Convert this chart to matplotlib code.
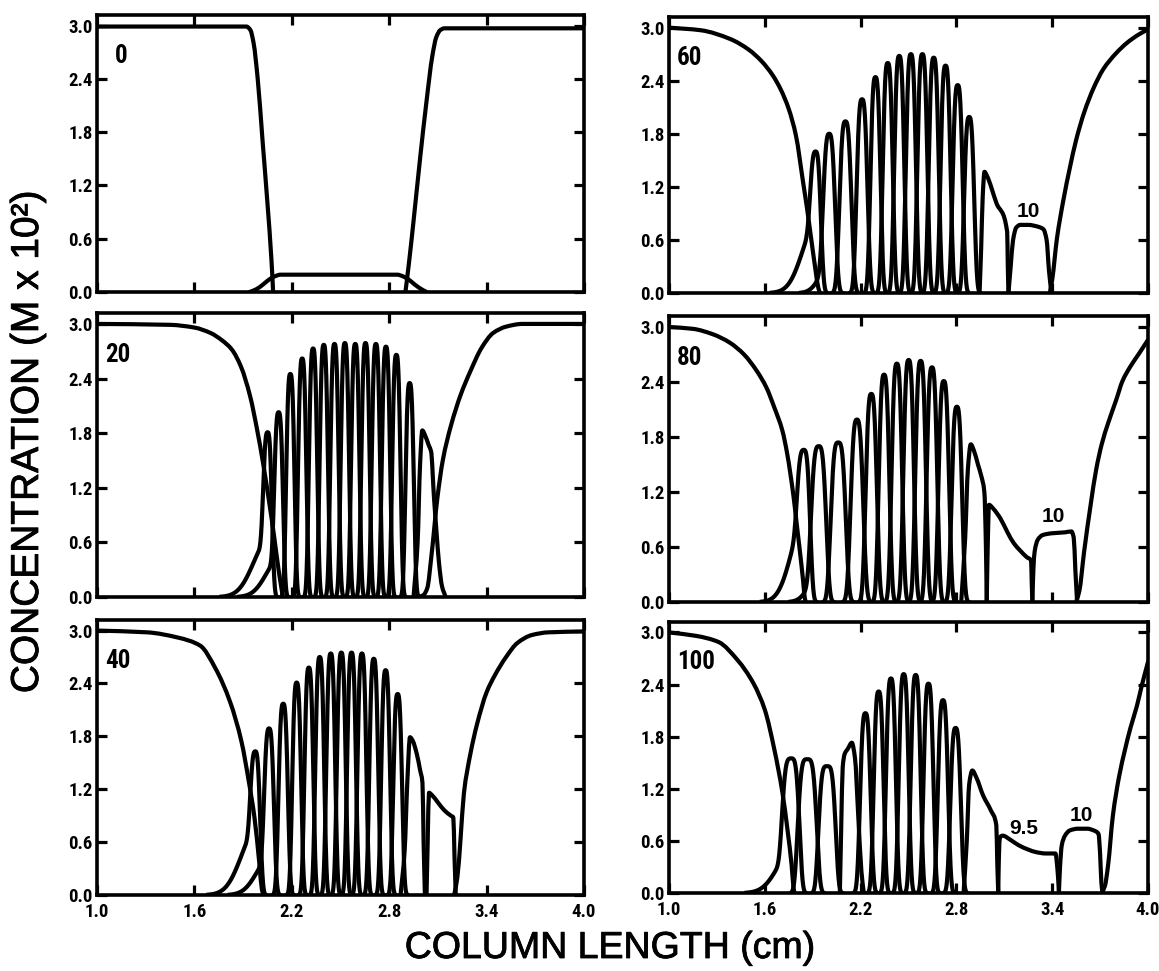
import numpy as np
import matplotlib
matplotlib.use("Agg")
import matplotlib.pyplot as plt
from matplotlib import font_manager
from matplotlib import patheffects
from matplotlib.path import Path
from matplotlib.patches import PathPatch

# ---------------------------------------------------------------- axes text
x_ticks = [1.0, 1.6, 2.2, 2.8, 3.4, 4.0]
y_ticks = [0.0, 0.6, 1.2, 1.8, 2.4, 3.0]
x_tick_labels = ["1.0", "1.6", "2.2", "2.8", "3.4", "4.0"]
y_tick_labels = ["0.0", "0.6", "1.2", "1.8", "2.4", "3.0"]
panel_times = ["0", "20", "40", "60", "80", "100"]
x_label = "COLUMN LENGTH (cm)"
y_label = "CONCENTRATION (M x 10\u00b2)"

# ---------------------------------------------------------------- t = 0
t0_front_left_x = [1.0, 1.92, 1.945, 1.965, 1.99, 2.02, 2.05, 2.075, 2.085]
t0_front_left_y = [2.99, 2.99, 2.95, 2.8, 2.4, 1.7, 1.0, 0.35, 0.0]
t0_low_x = [1.94, 1.98, 2.02, 2.06, 2.1, 2.13, 2.5, 2.85, 2.88, 2.92, 2.96, 3.0, 3.03]
t0_low_y = [0.0, 0.03, 0.08, 0.14, 0.18, 0.195, 0.195, 0.195, 0.18, 0.14, 0.08, 0.03, 0.0]
t0_front_right_x = [2.90, 2.92, 2.95, 2.99, 3.03, 3.065, 3.09, 3.115, 3.14, 3.5, 4.0]
t0_front_right_y = [0.0, 0.3, 0.8, 1.5, 2.15, 2.65, 2.87, 2.95, 2.97, 2.97, 2.97]

# ---------------------------------------------------------------- t = 20
t20_front_left_x = [1.0, 1.45, 1.6, 1.7, 1.77, 1.83, 1.887, 1.944, 1.985, 2.025, 2.06, 2.09, 2.12, 2.145]
t20_front_left_y = [3.0, 2.99, 2.96, 2.9, 2.82, 2.72, 2.53, 2.2, 1.85, 1.45, 1.05, 0.68, 0.28, 0.0]
t20_peak_x = [2.051, 2.119, 2.191, 2.264, 2.331, 2.397, 2.463, 2.527, 2.591, 2.654, 2.718, 2.78, 2.844, 2.926]
t20_peak_h = [1.81, 2.03, 2.45, 2.62, 2.73, 2.77, 2.78, 2.79, 2.78, 2.79, 2.78, 2.75, 2.66, 2.35]
t20_peak_w = [0.025, 0.025] + [0.024] * 12
t20_peak_p = [3.0] * 14
t20_tails = [(0, 0.6, 0.09), (1, 0.4, 0.08)]
t20_last_x = [2.95, 2.975, 2.99, 3.004, 3.02, 3.045, 3.058, 3.076, 3.092, 3.107, 3.125, 3.148]
t20_last_y = [0.0, 0.6, 1.45, 1.83, 1.78, 1.66, 1.6, 1.09, 0.7, 0.37, 0.12, 0.0]
t20_front_right_x = [2.98, 3.01, 3.035, 3.06, 3.097, 3.13, 3.18, 3.24, 3.30, 3.37, 3.44, 3.52, 3.62, 4.0]
t20_front_right_y = [0.0, 0.02, 0.1, 0.45, 1.09, 1.5, 1.88, 2.22, 2.48, 2.74, 2.9, 2.97, 3.0, 3.0]

# ---------------------------------------------------------------- t = 40
t40_front_left_x = [1.0, 1.31, 1.50, 1.635, 1.73, 1.82, 1.89, 1.935, 1.97, 2.0, 2.016, 2.025]
t40_front_left_y = [3.0, 2.98, 2.92, 2.83, 2.57, 2.19, 1.74, 1.29, 0.88, 0.36, 0.06, 0.0]
t40_peak_x = [1.975, 2.06, 2.147, 2.23, 2.305, 2.372, 2.44, 2.505, 2.568, 2.632, 2.705, 2.778, 2.852]
t40_peak_h = [1.63, 1.89, 2.17, 2.41, 2.58, 2.70, 2.74, 2.75, 2.75, 2.74, 2.68, 2.55, 2.28]
t40_peak_w = [0.028, 0.028, 0.027] + [0.0255] * 10
t40_peak_p = [3.0] * 13
t40_tails = [(0, 0.7, 0.09), (1, 0.4, 0.08)]
t40_b14_x = [2.87, 2.895, 2.912, 2.928, 2.945, 2.97, 2.99, 3.005, 3.012, 3.02]
t40_b14_y = [0.0, 0.5, 1.3, 1.79, 1.75, 1.6, 1.42, 1.27, 0.6, 0.0]
t40_b15_x = [3.03, 3.037, 3.045, 3.06, 3.10, 3.14, 3.18, 3.195, 3.202, 3.21]
t40_b15_y = [0.0, 0.6, 1.16, 1.14, 1.05, 0.96, 0.9, 0.88, 0.45, 0.0]
t40_front_right_x = [3.2, 3.22, 3.24, 3.26, 3.30, 3.34, 3.40, 3.45, 3.52, 3.59, 3.68, 3.78, 4.0]
t40_front_right_y = [0.0, 0.2, 0.65, 1.15, 1.6, 1.93, 2.3, 2.49, 2.7, 2.86, 2.95, 2.98, 2.99]

# ---------------------------------------------------------------- t = 60
t60_front_left_x = [1.0, 1.2, 1.385, 1.5, 1.58, 1.65, 1.70, 1.75, 1.795, 1.84, 1.865, 1.89, 1.916, 1.935, 1.945]
t60_front_left_y = [3.0, 2.97, 2.87, 2.75, 2.62, 2.46, 2.3, 2.08, 1.78, 1.25, 0.95, 0.62, 0.28, 0.06, 0.0]
t60_peak_x = [1.918, 2.003, 2.105, 2.209, 2.293, 2.37, 2.442, 2.515, 2.587, 2.658, 2.732, 2.808, 2.88]
t60_peak_h = [1.6, 1.8, 1.94, 2.19, 2.44, 2.6, 2.68, 2.70, 2.70, 2.66, 2.57, 2.35, 1.99]
t60_peak_w = [0.031, 0.035, 0.035, 0.032] + [0.0295] * 9
t60_peak_p = [3.0] * 13
t60_tails = [(0, 0.75, 0.085), (1, 0.3, 0.06)]
t60_b14_x = [2.945, 2.955, 2.965, 2.976, 2.99, 3.05, 3.118, 3.122, 3.126]
t60_b14_y = [0.0, 0.5, 1.1, 1.37, 1.33, 1.02, 0.69, 0.3, 0.0]
t60_b10_x = [3.126, 3.14, 3.155, 3.175, 3.2, 3.25, 3.31, 3.345, 3.365, 3.38, 3.395]
t60_b10_y = [0.0, 0.3, 0.6, 0.74, 0.77, 0.77, 0.75, 0.72, 0.6, 0.25, 0.0]
t60_front_right_x = [3.385, 3.40, 3.43, 3.47, 3.51, 3.55, 3.60, 3.66, 3.72, 3.80, 3.87, 3.94, 4.0]
t60_front_right_y = [0.0, 0.15, 0.62, 1.05, 1.41, 1.73, 2.04, 2.32, 2.53, 2.71, 2.83, 2.92, 2.98]

# ---------------------------------------------------------------- t = 80
t80_front_left_x = [1.0, 1.15, 1.276, 1.38, 1.47, 1.55, 1.61, 1.66, 1.71, 1.74, 1.78, 1.80, 1.82, 1.84, 1.85, 1.856]
t80_front_left_y = [3.0, 2.98, 2.92, 2.83, 2.70, 2.52, 2.34, 2.12, 1.87, 1.62, 1.15, 0.85, 0.55, 0.23, 0.05, 0.0]
t80_peak_x = [1.843, 1.937, 2.06, 2.177, 2.267, 2.347, 2.427, 2.501, 2.576, 2.647, 2.721, 2.803]
t80_peak_h = [1.66, 1.70, 1.74, 1.99, 2.27, 2.48, 2.60, 2.64, 2.63, 2.56, 2.41, 2.13]
t80_peak_w = [0.038, 0.044, 0.044, 0.037, 0.033] + [0.031] * 7
t80_peak_p = [3.4, 3.4, 3.4, 3.0, 3.0] + [3.0] * 7
t80_tails = [(0, 0.85, 0.08), (1, 0.3, 0.06)]
t80_b13_x = [2.83, 2.855, 2.872, 2.89, 2.91, 2.935, 2.955, 2.975, 2.985, 2.99]
t80_b13_y = [0.0, 0.7, 1.45, 1.72, 1.65, 1.5, 1.38, 1.2, 0.6, 0.0]
t80_b14_x = [2.99, 2.996, 3.004, 3.03, 3.076, 3.12, 3.16, 3.2, 3.24, 3.268, 3.272, 3.276]
t80_b14_y = [0.0, 0.6, 1.06, 1.02, 0.91, 0.76, 0.64, 0.56, 0.49, 0.45, 0.2, 0.0]
t80_b10_x = [3.276, 3.282, 3.29, 3.31, 3.34, 3.40, 3.48, 3.52, 3.535, 3.545, 3.556]
t80_b10_y = [0.0, 0.35, 0.55, 0.68, 0.73, 0.75, 0.76, 0.77, 0.7, 0.35, 0.0]
t80_front_right_x = [3.55, 3.57, 3.60, 3.64, 3.676, 3.71, 3.75, 3.80, 3.84, 3.89, 3.94, 4.0]
t80_front_right_y = [0.0, 0.12, 0.55, 1.05, 1.45, 1.72, 1.95, 2.2, 2.41, 2.57, 2.70, 2.86]

# ---------------------------------------------------------------- t = 100
t100_front_left_x = [1.0, 1.17, 1.31, 1.43, 1.53, 1.60, 1.66, 1.71, 1.744, 1.768, 1.78, 1.786]
t100_front_left_y = [3.0, 2.96, 2.89, 2.68, 2.41, 2.11, 1.65, 1.16, 0.70, 0.32, 0.06, 0.0]
t100_peak_x = [1.763, 1.866, 1.99, 2.23, 2.313, 2.39, 2.47, 2.545, 2.625, 2.716, 2.795]
t100_peak_h = [1.55, 1.54, 1.46, 2.07, 2.32, 2.47, 2.52, 2.51, 2.41, 2.22, 1.90]
t100_peak_w = [0.05, 0.055, 0.05, 0.031, 0.029, 0.029, 0.029, 0.029, 0.029, 0.03, 0.031]
t100_peak_p = [4.0, 4.0, 4.0] + [3.0] * 8
t100_tails = [(0, 0.45, 0.09)]
t100_b4_x = [2.07, 2.078, 2.088, 2.10, 2.12, 2.145, 2.165, 2.185, 2.205, 2.22]
t100_b4_y = [0.0, 0.7, 1.45, 1.6, 1.66, 1.73, 1.55, 0.9, 0.25, 0.0]
t100_b13_x = [2.845, 2.865, 2.88, 2.90, 2.925, 2.968, 3.016, 3.05, 3.056, 3.062]
t100_b13_y = [0.0, 0.6, 1.25, 1.41, 1.33, 1.12, 0.95, 0.78, 0.35, 0.0]
t100_b95_x = [3.062, 3.066, 3.072, 3.09, 3.14, 3.19, 3.25, 3.30, 3.36, 3.42, 3.436, 3.442]
t100_b95_y = [0.0, 0.4, 0.64, 0.66, 0.61, 0.55, 0.5, 0.47, 0.455, 0.455, 0.2, 0.0]
t100_b10_x = [3.442, 3.449, 3.46, 3.48, 3.51, 3.56, 3.62, 3.66, 3.69, 3.70, 3.708, 3.715]
t100_b10_y = [0.0, 0.3, 0.55, 0.66, 0.72, 0.74, 0.74, 0.72, 0.68, 0.45, 0.12, 0.0]
t100_front_right_x = [3.71, 3.73, 3.75, 3.78, 3.82, 3.856, 3.89, 3.93, 3.96, 4.0]
t100_front_right_y = [0.0, 0.08, 0.32, 0.89, 1.35, 1.65, 1.9, 2.15, 2.38, 2.66]

# band labels (text, x, y)
t60_notes = [("10", 3.25, 0.92)]
t80_notes = [("10", 3.41, 0.93)]
t100_notes = [("9.5", 3.22, 0.74), ("10", 3.58, 0.89)]

# ---------------------------------------------------------------- panels
panels = [
    dict(time=panel_times[0], box=(97, 15, 584, 292),
         curves=[(t0_front_left_x, t0_front_left_y), (t0_low_x, t0_low_y),
                 (t0_front_right_x, t0_front_right_y)],
         peaks=None, notes=[]),
    dict(time=panel_times[3], box=(669, 17, 1148, 293),
         curves=[(t60_front_left_x, t60_front_left_y), (t60_b14_x, t60_b14_y),
                 (t60_b10_x, t60_b10_y), (t60_front_right_x, t60_front_right_y)],
         peaks=(t60_peak_x, t60_peak_h, t60_peak_w, t60_peak_p, t60_tails), notes=t60_notes),
    dict(time=panel_times[1], box=(97, 313, 584, 597),
         curves=[(t20_front_left_x, t20_front_left_y), (t20_last_x, t20_last_y),
                 (t20_front_right_x, t20_front_right_y)],
         peaks=(t20_peak_x, t20_peak_h, t20_peak_w, t20_peak_p, t20_tails), notes=[]),
    dict(time=panel_times[4], box=(669, 316, 1148, 602),
         curves=[(t80_front_left_x, t80_front_left_y), (t80_b13_x, t80_b13_y),
                 (t80_b14_x, t80_b14_y), (t80_b10_x, t80_b10_y),
                 (t80_front_right_x, t80_front_right_y)],
         peaks=(t80_peak_x, t80_peak_h, t80_peak_w, t80_peak_p, t80_tails), notes=t80_notes),
    dict(time=panel_times[2], box=(97, 620, 584, 895),
         curves=[(t40_front_left_x, t40_front_left_y), (t40_b14_x, t40_b14_y),
                 (t40_b15_x, t40_b15_y), (t40_front_right_x, t40_front_right_y)],
         peaks=(t40_peak_x, t40_peak_h, t40_peak_w, t40_peak_p, t40_tails), notes=[]),
    dict(time=panel_times[5], box=(669, 622, 1148, 893),
         curves=[(t100_front_left_x, t100_front_left_y), (t100_b4_x, t100_b4_y),
                 (t100_b13_x, t100_b13_y), (t100_b95_x, t100_b95_y),
                 (t100_b10_x, t100_b10_y), (t100_front_right_x, t100_front_right_y)],
         peaks=(t100_peak_x, t100_peak_h, t100_peak_w, t100_peak_p, t100_tails), notes=t100_notes),
]

# ---------------------------------------------------------------- fonts
font_entries = font_manager.fontManager.ttflist
installed = {f.name for f in font_entries}
narrow_kw = None
for cand in ["Liberation Sans Narrow", "Roboto Condensed", "Open Sans Condensed",
             "DejaVu Sans Condensed", "Noto Sans Condensed"]:
    if cand in installed:
        narrow_kw = dict(family=cand)
        break
if narrow_kw is None:
    has_condensed = any(f.name == "DejaVu Sans" and "ondensed" in str(f.stretch).lower()
                        or (f.name == "DejaVu Sans" and "Condensed" in f.fname)
                        for f in font_entries)
    if has_condensed:
        narrow_kw = dict(family="DejaVu Sans", stretch="condensed")
    else:
        narrow_kw = dict(family="Liberation Sans")
plain_family = "Liberation Sans" if "Liberation Sans" in installed else "DejaVu Sans"

LW = 3.0
INK = "black"
heavy = [patheffects.withStroke(linewidth=0.6, foreground=INK)]


def smooth_path(xs, ys):
    """Monotone cubic (Fritsch-Carlson) Bezier path through the given points."""
    x = np.asarray(xs, float)
    y = np.asarray(ys, float)
    h = np.diff(x)
    d = np.diff(y) / h
    n = len(x)
    m = np.zeros(n)
    m[0], m[-1] = d[0], d[-1]
    for k in range(1, n - 1):
        if d[k - 1] * d[k] <= 0:
            m[k] = 0.0
        else:
            w1 = 2 * h[k] + h[k - 1]
            w2 = h[k] + 2 * h[k - 1]
            m[k] = (w1 + w2) / (w1 / d[k - 1] + w2 / d[k])
    verts = [(x[0], y[0])]
    codes = [Path.MOVETO]
    for k in range(n - 1):
        verts += [(x[k] + h[k] / 3, y[k] + m[k] * h[k] / 3),
                  (x[k + 1] - h[k] / 3, y[k + 1] - m[k + 1] * h[k] / 3),
                  (x[k + 1], y[k + 1])]
        codes += [Path.CURVE4] * 3
    return Path(verts, codes)


def band_profile(x, c, h, w, p, tail_amp=0.0, tail_w=0.1):
    core = np.exp(-0.5 * np.abs((x - c) / w) ** p)
    left_tail = np.where(x < c, np.exp(-0.5 * ((x - c) / tail_w) ** 2), core)
    return (h - tail_amp) * core + tail_amp * left_tail


W, H = 1159, 971
fig = plt.figure(figsize=(W / 100, H / 100), dpi=100)
fig.patch.set_facecolor("white")
grid = np.linspace(1.0, 4.0, 6001)

for idx, pan in enumerate(panels):
    x0, top, x1, bot = pan["box"]
    ax = fig.add_axes([x0 / W, 1 - bot / H, (x1 - x0) / W, (bot - top) / H])
    ax.set_xlim(1.0, 4.0)
    ax.set_ylim(0.0, 3.12)

    for xs, ys in pan["curves"]:
        ax.add_patch(PathPatch(smooth_path(xs, ys), facecolor="none", edgecolor=INK,
                               lw=LW, joinstyle="round", capstyle="round"))

    if pan["peaks"] is not None:
        px, ph, pw, pp, tails = pan["peaks"]
        tail_of = {i: (a, tw) for i, a, tw in tails}
        for i, (c, h, w, p) in enumerate(zip(px, ph, pw, pp)):
            ta, tw = tail_of.get(i, (0.0, 0.1))
            y = band_profile(grid, c, h, w, p, ta, tw)
            keep = np.where(y > 0.004)[0]
            lo, hi = max(keep[0] - 1, 0), min(keep[-1] + 2, len(grid))
            ax.plot(grid[lo:hi], y[lo:hi], color=INK, lw=LW, solid_joinstyle="round")

    for txt, tx, ty in pan["notes"]:
        ax.text(tx, ty, txt, fontsize=15, fontweight="bold", family=plain_family,
                ha="center", va="center")

    tx = 1.11 if pan["time"] == "0" else 1.05
    ax.text(tx, 2.66, pan["time"], fontsize=18, fontweight="bold",
            ha="left", va="center", **narrow_kw)

    for s in ax.spines.values():
        s.set_linewidth(2.6)
        s.set_color(INK)
    ax.set_xticks(x_ticks)
    ax.set_yticks(y_ticks)
    ax.set_yticklabels(y_tick_labels)
    bottom_row = idx >= 4
    if bottom_row:
        ax.set_xticklabels(x_tick_labels)
    ax.tick_params(direction="in", length=7, width=2.3, top=True, right=True,
                   labelbottom=bottom_row, labelsize=13.5, pad=3)
    ax.tick_params(axis="x", pad=6)
    for lbl in ax.get_xticklabels() + ax.get_yticklabels():
        lbl.set_fontweight("bold")
        for k, v in narrow_kw.items():
            getattr(lbl, "set_font" + k if k == "family" else "set_" + k)(v)

fig.text(28 / W, 1 - 442 / H, y_label, rotation=90, ha="center", va="center",
         fontsize=28, family=plain_family, path_effects=heavy)
fig.text(610 / W, 1 - 948 / H, x_label, ha="center", va="center",
         fontsize=27, family=plain_family, path_effects=heavy)

fig.savefig("out.png", dpi=100, facecolor="white")
